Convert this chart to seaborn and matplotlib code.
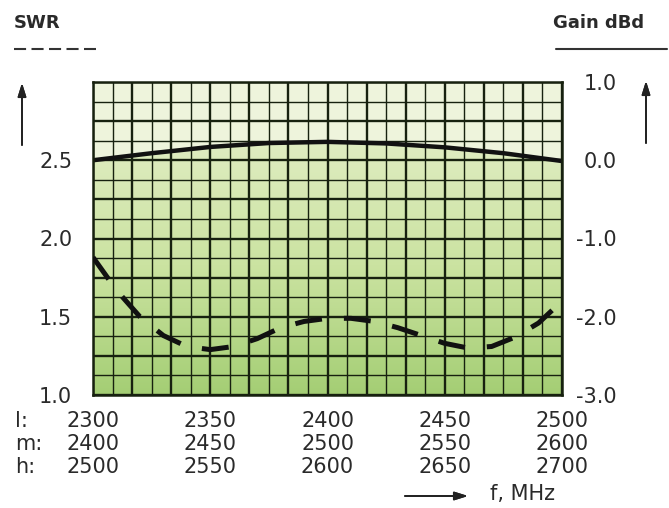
import numpy as np
import matplotlib
matplotlib.use("Agg")
import matplotlib.pyplot as plt
import seaborn as sns
from matplotlib.lines import Line2D
from matplotlib.colors import LinearSegmentedColormap

# ---------------- data ----------------
freq_l = [2300, 2350, 2400, 2450, 2500]
freq_m = [2400, 2450, 2500, 2550, 2600]
freq_h = [2500, 2550, 2600, 2650, 2700]
band_names = ["l:", "m:", "h:"]

gain_freq = [2300, 2325, 2350, 2375, 2400, 2425, 2450, 2475, 2500]
gain_dbd = [0.0, 0.09, 0.17, 0.22, 0.235, 0.215, 0.165, 0.09, -0.01]

swr_freq = [2300, 2310, 2320, 2330, 2340, 2350, 2360, 2370, 2380, 2390, 2400,
            2410, 2420, 2430, 2440, 2450, 2460, 2470, 2480, 2490, 2500]
swr_vals = [1.88, 1.67, 1.50, 1.38, 1.31, 1.29, 1.31, 1.36, 1.43, 1.47, 1.49,
            1.49, 1.47, 1.43, 1.38, 1.33, 1.30, 1.31, 1.37, 1.46, 1.60]

swr_ticks = [1.0, 1.5, 2.0, 2.5]
swr_labels = ["1.0", "1.5", "2.0", "2.5"]
gain_ticks = [1.0, 0.0, -1.0, -2.0, -3.0]
gain_labels = ["1.0", "0.0", "-1.0", "-2.0", "-3.0"]

# ---------------- style ----------------
sns.set_style("white")
plt.rcParams["font.family"] = ["DejaVu Sans"]
TXT = "#2a2a2a"
GRID = "#17210f"

W, H, DPI = 669, 508, 100
fig = plt.figure(figsize=(W / DPI, H / DPI), dpi=DPI)
fig.patch.set_facecolor("white")

ax_s = fig.add_axes([93 / W, 1 - 395 / H, 469 / W, 313 / H])  # SWR (left)
ax_g = ax_s.twinx()                                           # Gain (right)
ax_s.set_zorder(ax_g.get_zorder() + 1)
ax_s.patch.set_visible(False)
ax_g.patch.set_visible(True)
ax_g.set_facecolor("#eef4dc")

x0, x1 = freq_l[0], freq_l[-1]

# background gradient under the gain curve
grad = np.linspace(0, 1, 256).reshape(-1, 1)
cmap = LinearSegmentedColormap.from_list("g", ["#e0edc2", "#cbe3a1", "#a4ce74"])
img = ax_g.imshow(grad, extent=(x0, x1, gain_ticks[-1], 0.3), origin="upper",
                  aspect="auto", cmap=cmap, zorder=0.5)
poly = ax_g.fill_between(gain_freq, gain_dbd, gain_ticks[-1], color="none", lw=0)
img.set_clip_path(poly.get_paths()[0], transform=ax_g.transData)

# grid
vx = np.linspace(x0, x1, 25)
for i, v in enumerate(vx):
    ax_g.axvline(v, color=GRID, lw=1.7 if i % 2 == 0 else 1.0, zorder=2)
hy = np.linspace(gain_ticks[-1], gain_ticks[0], 17)
for i, v in enumerate(hy):
    ax_g.axhline(v, color=GRID, lw=1.7 if i % 2 == 0 else 1.0, zorder=2)

# curves
sns.lineplot(x=gain_freq, y=gain_dbd, ax=ax_g, color="#111111", lw=3.2, zorder=5)
sns.lineplot(x=swr_freq, y=swr_vals, ax=ax_s, color="#111111", lw=3.6,
             linestyle=(0, (5.4, 4.4)), dash_capstyle="butt", zorder=5)

ax_s.set_xlim(x0, x1)
ax_s.set_ylim(1.0, 3.0)
ax_g.set_ylim(gain_ticks[-1], gain_ticks[0])

for sp in ax_s.spines.values():
    sp.set_visible(True)
    sp.set_color(GRID)
    sp.set_linewidth(1.8)
for sp in ax_g.spines.values():
    sp.set_visible(False)

ax_s.set_yticks(swr_ticks, swr_labels)
ax_s.tick_params(axis="y", length=0, pad=15, labelsize=15, labelcolor=TXT)
ax_g.set_yticks(gain_ticks, gain_labels)
ax_g.tick_params(axis="y", length=0, pad=39.6, labelsize=15, labelcolor=TXT)
for lbl in ax_g.get_yticklabels():
    lbl.set_horizontalalignment("right")

XPAD = 11.5
LS = 1.2
ax_s.set_xticks(freq_l, [f"{a}\n{b}\n{c}" for a, b, c in zip(freq_l, freq_m, freq_h)])
ax_s.tick_params(axis="x", length=0, pad=XPAD, labelsize=15, labelcolor=TXT)
for lbl in ax_s.get_xticklabels():
    lbl.set_linespacing(LS)

ax_s.annotate("\n".join(band_names), xy=(0, 0), xycoords="axes fraction",
              xytext=(-78, -XPAD * DPI / 72), textcoords="offset pixels",
              ha="left", va="top", fontsize=15, linespacing=LS, color=TXT)

# arrows
ap = dict(arrowstyle="-|>,head_length=0.8,head_width=0.25", color="#222222", lw=1.3,
          shrinkA=0, shrinkB=0)
fig.add_artist(plt.annotate("", xy=(22, H - 83), xytext=(22, H - 145),
                            xycoords="figure pixels", textcoords="figure pixels", arrowprops=ap))
fig.add_artist(plt.annotate("", xy=(646, H - 81), xytext=(646, H - 143),
                            xycoords="figure pixels", textcoords="figure pixels", arrowprops=ap))
fig.add_artist(plt.annotate("", xy=(468, H - 496), xytext=(405, H - 496),
                            xycoords="figure pixels", textcoords="figure pixels", arrowprops=ap))
fig.text(490 / W, 1 - 494 / H, "f, MHz", fontsize=15, va="center", ha="left", color=TXT)

# header / legend
fig.text(14 / W, 1 - 23 / H, "SWR", fontsize=13, fontweight="bold", va="center", ha="left", color=TXT)
fig.text(644 / W, 1 - 23 / H, "Gain dBd", fontsize=13, fontweight="bold", va="center", ha="right", color=TXT)
fig.add_artist(Line2D([14 / W, 96 / W], [1 - 49 / H] * 2, transform=fig.transFigure,
                      color="#333333", lw=1.5, linestyle=(0, (5.8, 2.6))))
fig.add_artist(Line2D([556 / W, 667 / W], [1 - 49 / H] * 2, transform=fig.transFigure,
                      color="#333333", lw=1.5))

fig.savefig("out.png", dpi=DPI)
